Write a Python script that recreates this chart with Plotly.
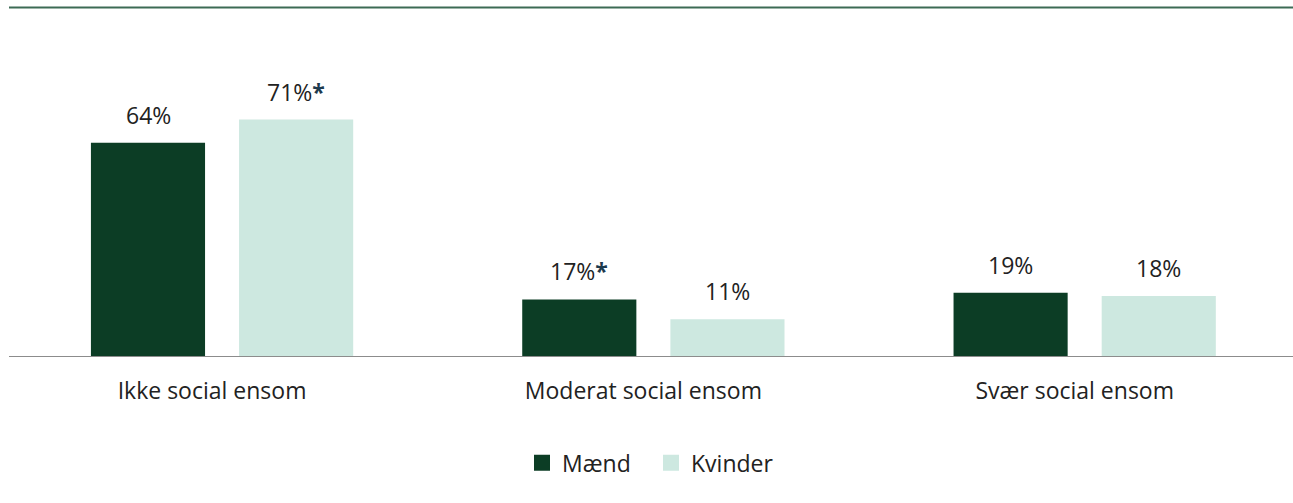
import plotly.graph_objects as go

categories = ["Ikke social ensom", "Moderat social ensom", "Svær social ensom"]
maend = [64, 17, 19]
kvinder = [71, 11, 18]
maend_star = [False, True, False]
kvinder_star = [True, False, False]

DARK = "#0c3d25"
LIGHT = "#cde8e0"
TXT = "#222222"
STAR = "#1d3a4e"
FONT = "Open Sans"
FS = 23

def labels(vals, stars):
    out = []
    for v, s in zip(vals, stars):
        t = f"{v}%"
        if s:
            t += f"<span style='color:{STAR}'><b>*</b></span>"
        out.append(t)
    return out

x_idx = list(range(len(categories)))

fig = go.Figure()
fig.add_trace(go.Bar(x=x_idx, y=maend, name="Mænd", marker=dict(color=DARK, line=dict(width=0)),
                     showlegend=False, hoverinfo="skip"))
fig.add_trace(go.Bar(x=x_idx, y=kvinder, name="Kvinder", marker=dict(color=LIGHT, line=dict(width=0)),
                     showlegend=False, hoverinfo="skip"))
for name, col in [("Mænd", DARK), ("Kvinder", LIGHT)]:
    fig.add_trace(go.Scatter(x=[None], y=[None], mode="markers", name=name,
                             marker=dict(symbol="square", size=16, color=col, line=dict(width=0))))

half_slot = 74
for vals, stars, sgn in [(maend, maend_star, -1), (kvinder, kvinder_star, 1)]:
    for i, (v, t) in enumerate(zip(vals, labels(vals, stars))):
        fig.add_annotation(x=i, y=v, xref="x", yref="y", text=t, showarrow=False,
                           xshift=sgn * half_slot, yanchor="bottom", yshift=10,
                           font=dict(size=FS, color=TXT, family=FONT))

fig.update_layout(
    width=1293, height=503,
    margin=dict(l=9, r=0, t=8, b=147),
    paper_bgcolor="white", plot_bgcolor="white",
    barmode="group", bargap=0.313, bargroupgap=0.2297,
    font=dict(family=FONT, size=FS, color=TXT),
    showlegend=True,
    legend=dict(orientation="h", x=0.5, xanchor="center", y=-0.307, yanchor="middle",
                font=dict(size=FS, color=TXT, family=FONT), itemsizing="trace",
                traceorder="normal", itemwidth=30, entrywidth=84),
)
fig.update_xaxes(tickmode="array", tickvals=x_idx, ticktext=categories,
                 range=[-0.494, 2.483], showline=True, linecolor="#8c8c8c", linewidth=1,
                 showgrid=False, zeroline=False, ticks="", ticklabelstandoff=14,
                 ticklabelshift=-10,
                 tickfont=dict(size=FS, color=TXT, family=FONT), fixedrange=True)
fig.update_yaxes(range=[0, 104.5], visible=False, showgrid=False, zeroline=False, fixedrange=True)
fig.add_shape(type="line", xref="paper", yref="paper", x0=0, x1=1, y0=1.0015, y1=1.0015,
              line=dict(color="#3c6b55", width=2))

fig.write_html("out.html", config={"displayModeBar": False},
               post_script="document.body.style.margin='0px';document.body.style.overflow='hidden';")
